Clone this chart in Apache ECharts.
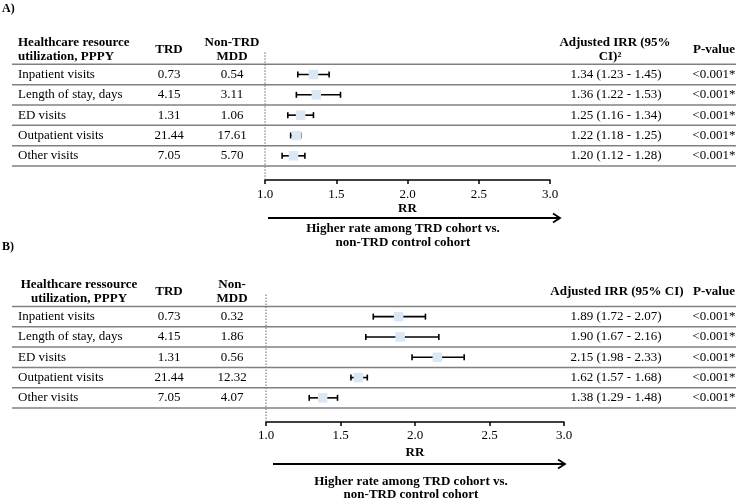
<!DOCTYPE html>
<html><head><meta charset="utf-8">
<script src="https://cdn.jsdelivr.net/npm/echarts@6/dist/echarts.min.js"></script>
<style>html,body{margin:0;padding:0;background:#fff}#c{width:740px;height:499px}</style>
</head><body><div id="c"></div>
<script>
const rowLabels = ['Inpatient visits','Length of stay, days','ED visits','Outpatient visits','Other visits'];
const trdA = [0.73, 4.15, 1.31, 21.44, 7.05];
const nonA = [0.54, 3.11, 1.06, 17.61, 5.70];
const irrA = [1.34, 1.36, 1.25, 1.22, 1.20];
const lowA = [1.23, 1.22, 1.16, 1.18, 1.12];
const highA = [1.45, 1.53, 1.34, 1.25, 1.28];
const pA = ['<0.001*','<0.001*','<0.001*','<0.001*','<0.001*'];
const trdB = [0.73, 4.15, 1.31, 21.44, 7.05];
const nonB = [0.32, 1.86, 0.56, 12.32, 4.07];
const irrB = [1.89, 1.90, 2.15, 1.62, 1.38];
const lowB = [1.72, 1.67, 1.98, 1.57, 1.29];
const highB = [2.07, 2.16, 2.33, 1.68, 1.48];
const pB = ['<0.001*','<0.001*','<0.001*','<0.001*','<0.001*'];
const xTicks = [1.0, 1.5, 2.0, 2.5, 3.0];

const FF = '"Liberation Serif", "Times New Roman", serif';
const body = '13px ' + FF;
const bold = 'bold 13px ' + FF;
const LINE = '#808080';

function tableSeries(gi, trd, non, irr, low, high, p) {
  return {
    type: 'custom', xAxisIndex: gi, yAxisIndex: gi, silent: true, z: 1,
    data: rowLabels.map((_, i) => [1, i]),
    renderItem: function (params, api) {
      const i = api.value(1);
      const yc = api.coord([1, i + 0.5])[1];
      const yb = api.coord([1, i + 1])[1];
      const t = (x, s, align) => ({ type: 'text', x: x, y: yc, style: { text: s, fill: '#000', font: body, align: align || 'center', verticalAlign: 'middle' } });
      const ch = [
        t(18, rowLabels[i], 'left'),
        t(169, trd[i].toFixed(2)),
        t(232, non[i].toFixed(2)),
        t(616, irr[i].toFixed(2) + ' (' + low[i].toFixed(2) + ' - ' + high[i].toFixed(2) + ')'),
        t(714, p[i]),
        { type: 'line', shape: { x1: 12, y1: yb, x2: 736, y2: yb }, style: { stroke: LINE, lineWidth: 1.5 } }
      ];
      if (i === 0) {
        const yt = api.coord([1, 0])[1];
        ch.push({ type: 'line', shape: { x1: 12, y1: yt, x2: 736, y2: yt }, style: { stroke: LINE, lineWidth: 1.5 } });
        const xr = api.coord([1, 0])[0];
        const yAx = api.coord([1, 5])[1] + 14;
        ch.push({ type: 'line', shape: { x1: xr, y1: yt - 12, x2: xr, y2: yAx }, style: { stroke: '#666', lineWidth: 1, lineDash: [1.5, 1.5] } });
      }
      return { type: 'group', children: ch };
    }
  };
}

function forestSeries(gi, irr, low, high) {
  return {
    type: 'custom', xAxisIndex: gi, yAxisIndex: gi, silent: true, z: 3,
    data: irr.map((v, i) => [v, i + 0.5, low[i], high[i]]),
    renderItem: function (params, api) {
      const y = api.value(1);
      const c = api.coord([api.value(0), y]);
      const lo = api.coord([api.value(2), y]);
      const hi = api.coord([api.value(3), y]);
      const st = { stroke: '#000', lineWidth: 1.6 };
      const h = 3, s = 9.5;
      return { type: 'group', children: [
        { type: 'line', shape: { x1: lo[0], y1: c[1], x2: hi[0], y2: c[1] }, style: st },
        { type: 'line', shape: { x1: lo[0], y1: c[1] - h, x2: lo[0], y2: c[1] + h }, style: st },
        { type: 'line', shape: { x1: hi[0], y1: c[1] - h, x2: hi[0], y2: c[1] + h }, style: st },
        { type: 'rect', shape: { x: c[0] - s / 2, y: c[1] - s / 2, width: s, height: s }, style: { fill: '#dae7f5' } }
      ] };
    }
  };
}

function xAxisCfg(gi, margin, nameGap) {
  return {
    gridIndex: gi, type: 'value', min: 1, max: 3, interval: 0.5, offset: 14, position: 'bottom',
    axisLine: { show: true, onZero: false, lineStyle: { color: '#000', width: 1.5 } },
    axisTick: { show: true, length: 4, lineStyle: { color: '#000', width: 1.5 } },
    axisLabel: { color: '#000', fontFamily: FF, fontSize: 13, margin: margin, formatter: v => { const t = xTicks.find(k => Math.abs(k - v) < 1e-9); return t === undefined ? '' : t.toFixed(1); } },
    splitLine: { show: false },
    name: 'RR', nameLocation: 'middle', nameGap: nameGap,
    nameTextStyle: { color: '#000', fontFamily: FF, fontSize: 13, fontWeight: 'bold' }
  };
}

function txt(x, y, s, font, align) {
  return { type: 'text', x: x, y: y, silent: true, style: { text: s, fill: '#000', font: font, align: align || 'center', verticalAlign: 'middle' } };
}
function arrow(x1, x2, y) {
  return { type: 'group', silent: true, children: [
    { type: 'line', shape: { x1: x1, y1: y, x2: x2 - 1, y2: y }, style: { stroke: '#000', lineWidth: 1.8 } },
    { type: 'polyline', shape: { points: [[x2 - 7, y - 4.5], [x2, y], [x2 - 7, y + 4.5]] }, style: { stroke: '#000', lineWidth: 1.8, fill: null } }
  ] };
}

const chart = echarts.init(document.getElementById('c'), null, { renderer: 'canvas' });
chart.setOption({
  animation: false,
  backgroundColor: '#fff',
  grid: [
    { left: 265, width: 285, top: 64.3, height: 101.7 },
    { left: 266, width: 298, top: 306.5, height: 101.5 }
  ],
  xAxis: [xAxisCfg(0, 8, 19), xAxisCfg(1, 7, 24)],
  yAxis: [
    { gridIndex: 0, type: 'value', min: 0, max: 5, inverse: true, show: false },
    { gridIndex: 1, type: 'value', min: 0, max: 5, inverse: true, show: false }
  ],
  graphic: [
    txt(2, 9, 'A)', 'bold 12px ' + FF, 'left'),
    txt(18, 43, 'Healthcare resource', bold, 'left'),
    txt(18, 57, 'utilization, PPPY', bold, 'left'),
    txt(169, 50, 'TRD', bold),
    txt(232, 43, 'Non-TRD', bold),
    txt(232, 57, 'MDD', bold),
    txt(615, 43, 'Adjusted IRR (95%', bold),
    txt(610, 57, 'CI)\u00b2', bold),
    txt(714, 50, 'P-value', bold),
    arrow(268, 560, 218),
    txt(403, 229, 'Higher rate among TRD cohort vs.', bold),
    txt(403, 243, 'non-TRD control cohort', bold),

    txt(2, 247, 'B)', 'bold 12px ' + FF, 'left'),
    txt(79, 285, 'Healthcare ressource', bold),
    txt(79, 299, 'utilization, PPPY', bold),
    txt(169, 292, 'TRD', bold),
    txt(232, 285, 'Non-', bold),
    txt(232, 299, 'MDD', bold),
    txt(617, 292, 'Adjusted IRR (95% CI)', bold),
    txt(714, 292, 'P-value', bold),
    arrow(273, 565, 464),
    txt(411, 482, 'Higher rate among TRD cohort vs.', bold),
    txt(411, 495, 'non-TRD control cohort', bold)
  ],
  series: [
    tableSeries(0, trdA, nonA, irrA, lowA, highA, pA),
    forestSeries(0, irrA, lowA, highA),
    tableSeries(1, trdB, nonB, irrB, lowB, highB, pB),
    forestSeries(1, irrB, lowB, highB)
  ]
});
</script></body></html>
